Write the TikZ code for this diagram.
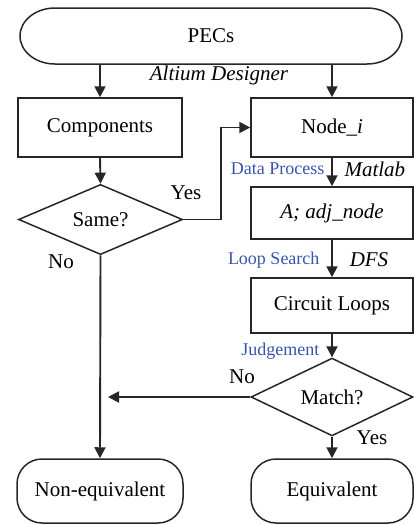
\documentclass[tikz,border=0pt]{standalone}
\usepackage{fontspec}
\setmainfont{Liberation Serif}
\usetikzlibrary{shapes.geometric,arrows.meta}
\definecolor{labelblue}{RGB}{55,85,175}
\tikzset{
  base/.style={draw=black!85, line width=1.5pt, inner sep=0pt,
    font=\fontsize{21}{24}\selectfont},
  outline/.style={draw=black!85, line width=1.5pt},
  boxnode/.style={base, rectangle, minimum width=162pt, minimum height=#1},
  boxnode/.default=59pt,
  terminal/.style={base, rectangle, rounded corners=#1},
  decision/.style={base, diamond, minimum width=164pt, minimum height=64pt},
  arr/.style={draw=black!85, line width=1.9pt,
    -{Triangle[length=11pt,width=11pt]}},
  tool/.style={font=\fontsize{21}{24}\selectfont\itshape},
  step label/.style={text=labelblue, font=\fontsize{18}{21}\selectfont},
  answer/.style={font=\fontsize{21}{24}\selectfont},
}
\begin{document}
\begin{tikzpicture}[x=1pt,y=-1pt]
\useasboundingbox (0,0) rectangle (413,525);

% start terminal with elliptical ends
\node[base, draw=none, minimum width=382pt, minimum height=56pt] (pecs) at (211,36) {PECs};
\draw[outline] (55,8) -- (367,8)
  arc[start angle=-90, end angle=90, x radius=35, y radius=28]
  -- (55,64)
  arc[start angle=90, end angle=270, x radius=35, y radius=28] -- cycle;

% nodes
\node[boxnode, minimum width=164pt] (comp) at (100,127.5) {Components};
\node[boxnode] (nodei) at (332,127.5) {Node\_\textit{i}};
\node[decision] (same) at (100.5,219.5) {Same?};
\node[boxnode=52pt] (adj) at (332,213) {\textit{A; adj\_node}};
\node[boxnode=55pt] (loops) at (332,305.5) {Circuit Loops};
\node[decision, minimum width=162pt, minimum height=62pt] (match) at (332,397) {Match?};
\node[terminal=25pt, minimum width=166pt, minimum height=64pt] (noneq) at (100,491) {Non-equivalent};
\node[terminal=25pt, minimum width=162pt, minimum height=64pt] (equiv) at (332,491) {Equivalent};

% connectors
\draw[arr] (pecs.south -| comp.north) -- (comp.north);
\draw[arr] (pecs.south -| nodei.north) -- (nodei.north);
\draw[arr] (comp.south) -- (same.north);
\draw[arr] (same.east) -- ++(38,0) |- (nodei.west);
\draw[arr] (nodei.south) -- (adj.north);
\draw[arr] (adj.south) -- (loops.north);
\draw[arr] (loops.south) -- (match.north);
\draw[arr] (same.south) -- (noneq.north);
\coordinate (notip) at (108,397);
\draw[arr] (match.west) -- (notip);
\draw[arr] (match.south) -- (equiv.north);

% labels
\node[tool] (altium) at (219,75) {Altium Designer};
\node[step label, anchor=east] (dp) at (328,169) {Data Process};
\node[tool, anchor=west] (matlab) at (341,169) {Matlab};
\node[answer] (yes1) at (186,193) {Yes};
\node[answer] (no1) at (61,262) {No};
\node[step label, anchor=east] (ls) at (323,260) {Loop Search};
\node[tool] (dfs) at (369,260) {DFS};
\node[step label, anchor=east] (jd) at (323,351) {Judgement};
\node[answer] (no2) at (242,377) {No};
\node[answer] (yes2) at (372,438) {Yes};
\end{tikzpicture}
\end{document}
